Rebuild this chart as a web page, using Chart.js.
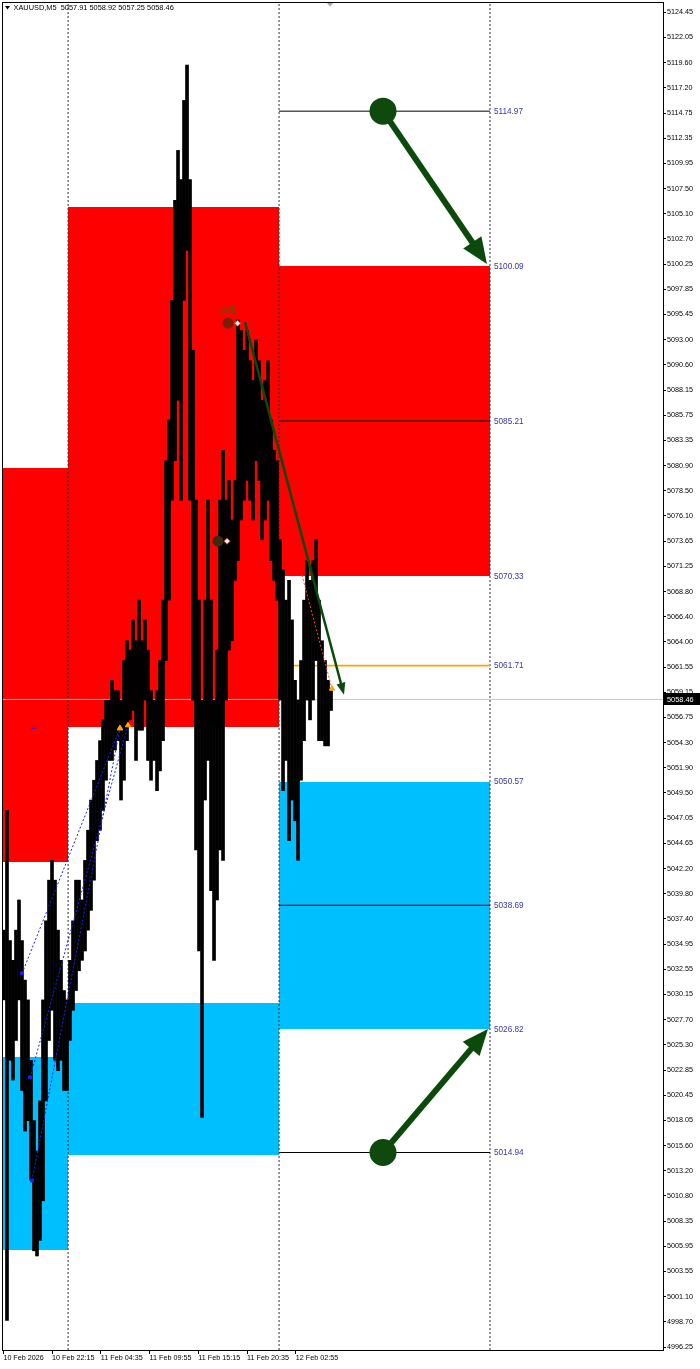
<!DOCTYPE html>
<html>
<head>
<meta charset="utf-8">
<script src="https://cdn.jsdelivr.net/npm/chart.js@4.4.1/dist/chart.umd.min.js"></script>
<style>
html,body{margin:0;padding:0;background:#ffffff;}
canvas{display:block;}
</style>
</head>
<body>
<canvas id="chart" width="700" height="1369"></canvas>
<script>
// ================= DATA =================
const symbolTitle = "XAUUSD,M5";
const lastQuote = [5057.91, 5058.92, 5057.25, 5058.46];
const currentPrice = 5058.46;

const xTickIndex = [0, 64, 128, 192, 256, 320, 384];
const xTickLabels = ["10 Feb 2026", "10 Feb 22:15", "11 Feb 04:35", "11 Feb 09:55", "11 Feb 15:15", "11 Feb 20:35", "12 Feb 02:55"];

const yTicks = [5124.45, 5122.05, 5119.60, 5117.20, 5114.75, 5112.35, 5109.95, 5107.50, 5105.10, 5102.70,
  5100.25, 5097.85, 5095.45, 5093.00, 5090.60, 5088.15, 5085.75, 5083.35, 5080.90, 5078.50,
  5076.10, 5073.65, 5071.25, 5068.80, 5066.40, 5064.00, 5061.55, 5059.15, 5056.75, 5054.30,
  5051.90, 5049.50, 5047.05, 5044.65, 5042.20, 5039.80, 5037.40, 5034.95, 5032.55, 5030.15,
  5027.70, 5025.30, 5022.85, 5020.45, 5018.05, 5015.60, 5013.20, 5010.80, 5008.35, 5005.95,
  5003.55, 5001.10, 4998.70, 4996.25];

const priceMin = 4995.97;
const priceMax = 5125.36;
const barIndexMin = -0.5;
const barIndexMax = 866.2;

// price columns: each column groups about four M5 bars (high / low)
const barsPerColumn = 3.94;
const firstColumnBar = 0.81;
const colHigh = [5036.3,5047.8,5035.3,5033.4,5036.3,5039.2,5035.3,5031.5,5029.6,5023.8,
  5018.0,5015.1,5019.9,5029.6,5037.2,5041.1,5043.0,5041.1,5036.3,5033.4,
  5030.5,5029.6,5033.4,5037.2,5041.1,5041.1,5039.2,5043.0,5045.9,5048.8,
  5050.7,5052.6,5054.5,5056.5,5058.4,5058.4,5060.3,5059.3,5059.3,5058.4,
  5062.2,5064.1,5063.2,5066.1,5064.1,5068.0,5064.1,5066.1,5063.2,5059.3,
  5058.4,5059.3,5062.2,5068.0,5081.4,5085.3,5096.8,5106.4,5111.2,5108.4,
  5116.0,5119.4,5108.4,5092.0,5077.6,5068.0,5058.4,5068.0,5077.6,5068.0,
  5058.4,5063.2,5077.6,5082.4,5077.6,5079.5,5075.7,5079.5,5094.9,5093.9,
  5092.0,5093.9,5091.0,5089.1,5093.0,5091.0,5087.2,5089.1,5091.0,5085.3,
  5082.4,5081.4,5073.8,5070.9,5068.0,5069.9,5066.1,5060.3,5058.4,5062.2,
  5068.0,5071.8,5069.9,5071.8,5073.8,5068.0,5064.1,5062.2,5060.3,5059.3];
const colLow = [5029.6,4998.8,5023.8,5021.9,5025.7,5029.6,5020.9,5017.0,5018.0,5012.3,
  5005.5,5005.0,5006.5,5010.3,5019.9,5025.7,5028.6,5023.8,5022.8,5023.8,
  5020.9,5020.9,5025.7,5028.6,5030.5,5032.4,5033.4,5034.3,5036.3,5038.2,
  5041.1,5044.9,5045.9,5047.8,5050.7,5052.6,5052.6,5053.6,5054.5,5048.8,
  5050.7,5054.5,5056.5,5057.4,5052.6,5055.5,5055.5,5058.4,5052.6,5050.7,
  5052.6,5049.7,5051.6,5054.5,5062.2,5068.0,5077.6,5081.4,5087.2,5077.6,
  5096.8,5101.6,5077.6,5058.4,5044.0,5034.3,5018.3,5048.8,5052.6,5040.1,
  5033.4,5039.2,5044.0,5043.0,5058.4,5063.2,5064.1,5069.9,5071.8,5075.7,
  5077.6,5079.5,5077.6,5075.7,5081.4,5079.5,5073.8,5075.7,5077.6,5071.8,
  5069.9,5068.0,5058.4,5049.7,5052.6,5044.9,5048.8,5046.8,5043.0,5050.7,
  5054.5,5058.4,5056.5,5058.4,5062.2,5054.5,5054.5,5054.0,5054.0,5057.4];

const daySeparators = [85, 362, 639];

const zoneStart  = [-1, 85, 362, -1, 85, 362];
const zoneEnd    = [85, 362, 639, 85, 362, 639];
const zoneTop    = [5080.69, 5105.77, 5100.09, 5024.11, 5029.30, 5050.57];
const zoneBottom = [5042.85, 5055.81, 5070.33, 5005.57, 5014.70, 5026.82];
const zoneType   = ["supply", "supply", "supply", "demand", "demand", "demand"];

const levelPrices = [5114.97, 5085.21, 5061.71, 5038.69, 5014.94];
const levelType   = ["line", "line", "entry", "line", "line"];
const levelFrom = 362, levelTo = 639;
const labelPrices = [5114.97, 5100.09, 5085.21, 5070.33, 5061.71, 5050.57, 5038.69, 5026.82, 5014.94];

const arrowFromX = [498.5, 498.5, 317.3];
const arrowFromY = [5114.97, 5014.94, 5094.7];
const arrowToX   = [635.0, 636.4, 447.3];
const arrowToY   = [5100.3, 5026.8, 5058.9];
const arrowKind  = ["big", "big", "thin"];

const tradeOpenX  = [24.5, 35.0, 37.6];
const tradeOpenY  = [5032.15, 5022.15, 5012.25];
const tradeCloseX = [153.1, 163.6, 153.1];
const tradeCloseY = [5055.69, 5055.98, 5055.69];

const sellLineX = [392.1, 431.5];
const sellLineY = [5070.4, 5059.5];

const signalX = [295.0, 281.8];
const signalY = [5094.6, 5073.66];
const signalText = ["sell", ""];
const signalMarkX = [307.5, 293.7];

const blueDashX = [36.3, 42.8];
const blueDashY = 5055.69;

// ================= CHART =================
const candleData = colHigh.map((h, i) => ({ x: firstColumnBar + i * barsPerColumn, y: [colLow[i], h] }));

const datasets = [];
datasets.push({
  type: 'line', order: 100,
  data: [{ x: barIndexMin, y: currentPrice }, { x: barIndexMax, y: currentPrice }],
  borderColor: '#C8C8C8', borderWidth: 1, pointRadius: 0
});
daySeparators.forEach(s => datasets.push({
  type: 'line', order: 90,
  data: [{ x: s, y: priceMin }, { x: s, y: priceMax }],
  borderColor: '#303030', borderWidth: 1, borderDash: [2, 2], pointRadius: 0
}));
levelPrices.forEach((p, i) => datasets.push({
  type: 'line', order: 80,
  data: [{ x: levelFrom, y: p }, { x: levelTo, y: p }],
  borderColor: levelType[i] === 'entry' ? '#FFA500' : '#000000',
  borderWidth: levelType[i] === 'entry' ? 1.6 : 1, pointRadius: 0
}));
datasets.push({
  type: 'bar', order: 50, data: candleData,
  backgroundColor: '#000000', borderWidth: 0, barPercentage: 1, categoryPercentage: 1
});
tradeOpenX.forEach((x0, i) => datasets.push({
  type: 'line', order: 5,
  data: [{ x: x0, y: tradeOpenY[i] }, { x: tradeCloseX[i], y: tradeCloseY[i] }],
  borderColor: '#1E1EFF', borderWidth: 1, borderDash: [2, 2],
  pointRadius: [2, 3], pointStyle: ['rect', 'triangle'],
  pointBackgroundColor: ['#1E1EFF', '#FFA500'], pointBorderColor: ['#1E1EFF', '#FFA500']
}));
datasets.push({
  type: 'line', order: 5,
  data: [{ x: sellLineX[0], y: sellLineY[0] }, { x: sellLineX[1], y: sellLineY[1] }],
  borderColor: '#FF4040', borderWidth: 1, borderDash: [2, 2],
  pointRadius: [0, 3], pointStyle: 'triangle',
  pointBackgroundColor: '#FFA500', pointBorderColor: '#FFA500'
});
datasets.push({
  type: 'line', order: 5,
  data: [{ x: blueDashX[0], y: blueDashY }, { x: blueDashX[1], y: blueDashY }],
  borderColor: '#2020FF', borderWidth: 1, pointRadius: 0
});
signalX.forEach((sx, i) => {
  datasets.push({
    type: 'line', order: 2, showLine: false,
    data: [{ x: sx, y: signalY[i] }],
    pointRadius: 5.5, pointBackgroundColor: i === 0 ? '#7A1E05' : '#3C2A10', pointBorderWidth: 0
  });
  datasets.push({
    type: 'line', order: 2, showLine: false,
    data: [{ x: signalMarkX[i], y: signalY[i] }],
    pointRadius: 3, pointStyle: 'rectRot', pointBackgroundColor: '#FFFFFF', pointBorderColor: '#FF3030', pointBorderWidth: 1
  });
});

const zonePlugin = {
  id: 'zones',
  beforeDatasetsDraw(chart) {
    const { ctx, chartArea: a, scales: { x, y } } = chart;
    ctx.save();
    ctx.beginPath(); ctx.rect(a.left, a.top, a.width, a.height); ctx.clip();
    for (let i = 0; i < zoneTop.length; i++) {
      const x0 = Math.round(x.getPixelForValue(zoneStart[i]));
      const x1 = Math.round(x.getPixelForValue(zoneEnd[i]));
      const y0 = Math.round(y.getPixelForValue(zoneTop[i]));
      const y1 = Math.round(y.getPixelForValue(zoneBottom[i]));
      ctx.fillStyle = zoneType[i] === 'supply' ? '#FF0000' : '#00BFFF';
      ctx.fillRect(x0, y0, x1 - x0, y1 - y0);
    }
    ctx.restore();
  }
};

const overlayPlugin = {
  id: 'overlay',
  afterDatasetsDraw(chart) {
    const { ctx, chartArea: a, scales: { x, y } } = chart;
    ctx.save();
    // arrows
    for (let i = 0; i < arrowFromX.length; i++) {
      const x0 = x.getPixelForValue(arrowFromX[i]), y0 = y.getPixelForValue(arrowFromY[i]);
      const x1 = x.getPixelForValue(arrowToX[i]), y1 = y.getPixelForValue(arrowToY[i]);
      const big = arrowKind[i] === 'big';
      const ang = Math.atan2(y1 - y0, x1 - x0);
      const L = big ? 26 : 12, W = big ? 11 : 4.5, lw = big ? 6 : 2.5;
      const bx = x1 - L * Math.cos(ang), by = y1 - L * Math.sin(ang);
      ctx.strokeStyle = '#0A4A0A'; ctx.fillStyle = '#0A4A0A';
      ctx.lineWidth = lw; ctx.lineCap = 'butt';
      ctx.beginPath(); ctx.moveTo(x0, y0); ctx.lineTo(bx + 2 * Math.cos(ang), by + 2 * Math.sin(ang)); ctx.stroke();
      ctx.beginPath();
      ctx.moveTo(x1, y1);
      ctx.lineTo(bx + W * Math.sin(ang), by - W * Math.cos(ang));
      ctx.lineTo(bx - W * Math.sin(ang), by + W * Math.cos(ang));
      ctx.closePath(); ctx.fill();
      if (big) {
        ctx.fillStyle = '#0E4A0E';
        ctx.beginPath(); ctx.arc(x0, y0, 13.5, 0, Math.PI * 2); ctx.fill();
      }
    }
    // signal text
    ctx.font = '11px "Liberation Sans", Arial, sans-serif';
    ctx.fillStyle = '#6A4A0A'; ctx.textAlign = 'center'; ctx.textBaseline = 'middle';
    signalX.forEach((sx, i) => {
      if (signalText[i]) ctx.fillText(signalText[i], x.getPixelForValue(sx), y.getPixelForValue(signalY[i]) - 13);
    });
    // level labels
    ctx.font = '8.2px "Liberation Sans", Arial, sans-serif';
    ctx.fillStyle = '#3535A5'; ctx.textAlign = 'left';
    const lx = x.getPixelForValue(levelTo) + 4;
    labelPrices.forEach(p => ctx.fillText(p.toFixed(2), lx, y.getPixelForValue(p) + 0.5));
    // border
    ctx.strokeStyle = '#000'; ctx.lineWidth = 1;
    ctx.strokeRect(Math.round(a.left) - 0.5, Math.round(a.top) - 0.5, Math.round(a.width) + 1, Math.round(a.height) + 1);
    // header
    ctx.fillStyle = '#000';
    ctx.beginPath(); ctx.moveTo(5, 6); ctx.lineTo(10, 6); ctx.lineTo(7.5, 9.5); ctx.closePath(); ctx.fill();
    ctx.font = '7.4px "Liberation Sans", Arial, sans-serif';
    ctx.textAlign = 'left'; ctx.textBaseline = 'middle';
    ctx.fillText(symbolTitle + '  ' + lastQuote.map(v => v.toFixed(2)).join(' '), 13.5, 8);
    // chart shift marker
    ctx.fillStyle = '#A8A8A8';
    ctx.beginPath(); ctx.moveTo(327, 3); ctx.lineTo(333, 3); ctx.lineTo(330, 6.5); ctx.closePath(); ctx.fill();
    // current price tag
    const cy = Math.round(y.getPixelForValue(currentPrice));
    ctx.fillStyle = '#000';
    ctx.fillRect(a.right + 1, cy - 6, 36, 12);
    ctx.fillStyle = '#fff'; ctx.font = '7.4px "Liberation Sans", Arial, sans-serif';
    ctx.fillText(currentPrice.toFixed(2), a.right + 4, cy + 0.5);
    ctx.restore();
  }
};

const noPad = s => { s.paddingTop = 0; s.paddingBottom = 0; s.paddingLeft = 0; s.paddingRight = 0; };

new Chart(document.getElementById('chart'), {
  type: 'bar',
  data: { datasets },
  plugins: [zonePlugin, overlayPlugin],
  options: {
    responsive: false, animation: false, devicePixelRatio: 1,
    layout: { autoPadding: false, padding: { left: 3, top: 3, right: 0, bottom: 0 } },
    plugins: { legend: { display: false }, tooltip: { enabled: false } },
    scales: {
      x: {
        type: 'linear', min: barIndexMin, max: barIndexMax, offset: false,
        afterBuildTicks: s => { s.ticks = xTickIndex.map(v => ({ value: v })); },
        afterFit: s => { s.height = 19; noPad(s); },
        ticks: {
          autoSkip: false, maxRotation: 0, minRotation: 0, align: 'start', padding: 0,
          color: '#000', font: { family: '"Liberation Sans", Arial, sans-serif', size: 7.2 },
          callback: (v, i) => xTickLabels[i]
        },
        grid: { drawOnChartArea: false, drawTicks: true, tickLength: 4, color: '#000', offset: false },
        border: { display: true, color: '#000' }
      },
      y: {
        type: 'linear', position: 'right', min: priceMin, max: priceMax, beginAtZero: false,
        afterBuildTicks: s => { s.ticks = yTicks.map(v => ({ value: v })); },
        afterFit: s => { s.width = 37; noPad(s); },
        ticks: {
          autoSkip: false, padding: 1, color: '#000',
          font: { family: '"Liberation Sans", Arial, sans-serif', size: 7.2 },
          callback: v => Number(v).toFixed(2)
        },
        grid: { drawOnChartArea: false, drawTicks: true, tickLength: 3, color: '#000' },
        border: { display: true, color: '#000' }
      }
    }
  }
});
</script>
</body>
</html>
